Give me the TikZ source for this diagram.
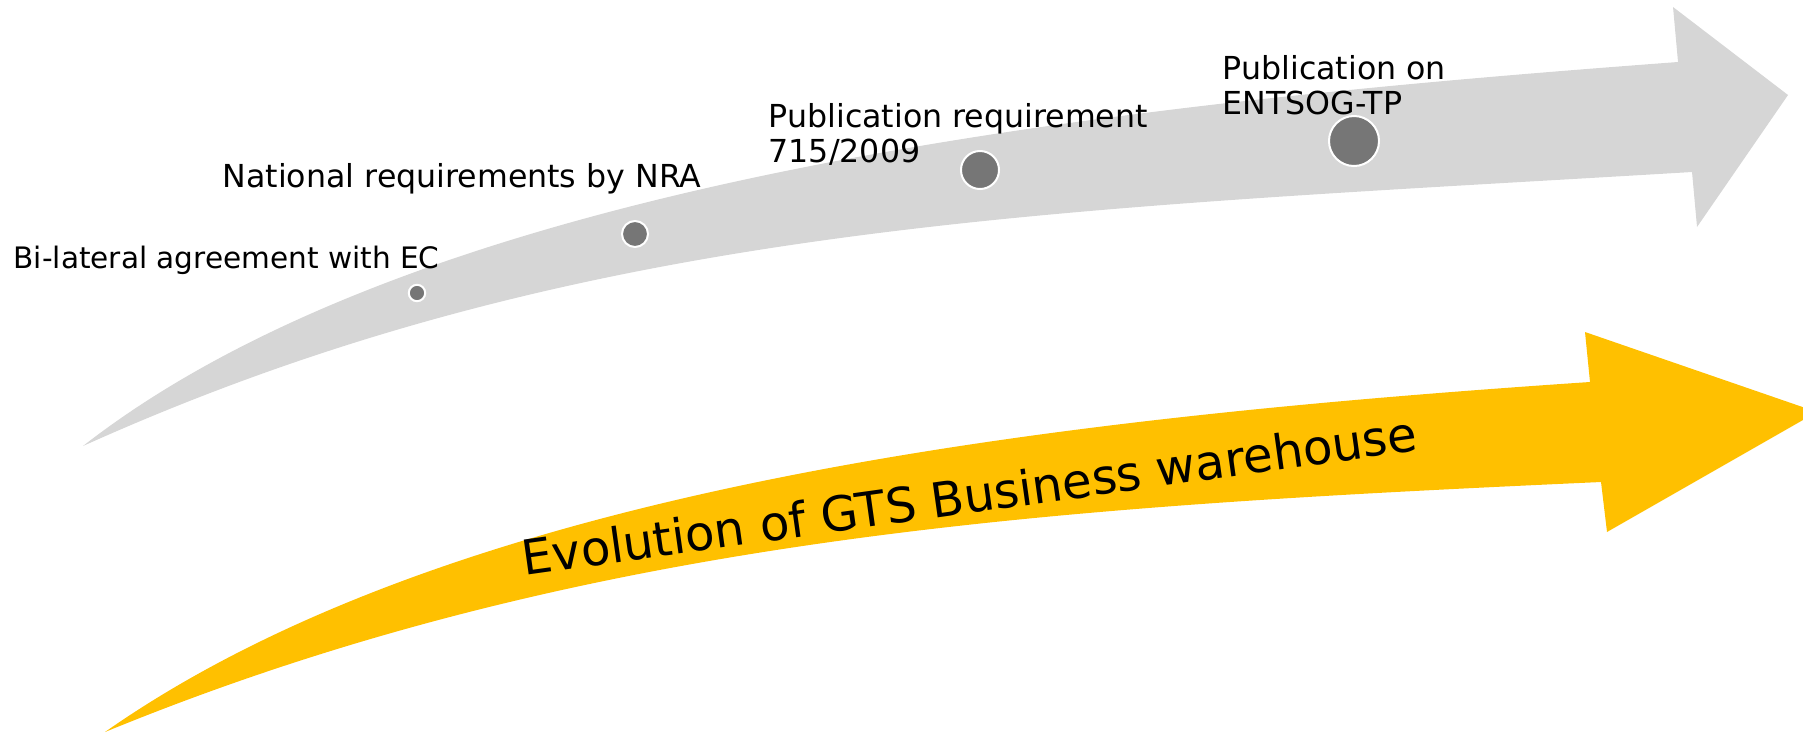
\documentclass[tikz,border=0pt]{standalone}
\usepackage{fontspec}
\setmainfont{DejaVu Sans}
\usepackage{xcolor}
\usepackage{tikz}

\definecolor{arrowgrey}{RGB}{214,214,214}
\definecolor{gtsyellow}{RGB}{255,192,0}
\definecolor{dotgrey}{RGB}{118,118,118}

\tikzset{
    milestone/.style={circle, fill=dotgrey, draw=white, line width=0.57pt, inner sep=0pt},
    steplabel/.style={anchor=north west, inner sep=0pt, align=left, font=\fontsize{9}{9.96}\selectfont},
}

\begin{document}
\begin{tikzpicture}[x=0.01cm, y=-0.01cm]
    \useasboundingbox (0,0) rectangle (1803,733);

    % grey arrow
    \fill [arrowgrey] (83,446) .. controls (433,173) and (1128,103) .. (1678,62) -- (1673,7) -- (1788,95)
        -- (1697,227) -- (1692,172) .. controls (1042,211) and (583,221) .. (83,446) -- cycle;

    % yellow arrow
    \fill [gtsyellow] (105,732) .. controls (455,487) and (1040,419) .. (1590,382) -- (1585,332) -- (1817,412)
        -- (1607,532) -- (1601,482) .. controls (1051,507) and (585,535) .. (105,732) -- cycle;

    \node (evo) [anchor=base west, inner sep=0pt, rotate=8, font=\fontsize{13.7}{16}\selectfont] at (524,576) {Evolution of GTS Business warehouse};

    % milestones
    \node (ec) [milestone, minimum size=0.164cm] at (417,293) {};
    \node (nra) [milestone, minimum size=0.26cm] at (635,234) {};
    \node (reg) [milestone, minimum size=0.38cm] at (980,170) {};
    \node (tp) [milestone, minimum size=0.5cm] at (1354,141) {};

    \node (ecl) [steplabel, font=\fontsize{8.4}{9.3}\selectfont] at (13,245) {Bi-lateral agreement with EC};
    \node (nral) [steplabel] at (222,163) {National requirements by NRA};
    \node (regl) [steplabel] at (768,103) {Publication requirement\\715/2009};
    \node (tpl) [steplabel] at (1222,55) {Publication on\\ENTSOG-TP};
\end{tikzpicture}
\end{document}
